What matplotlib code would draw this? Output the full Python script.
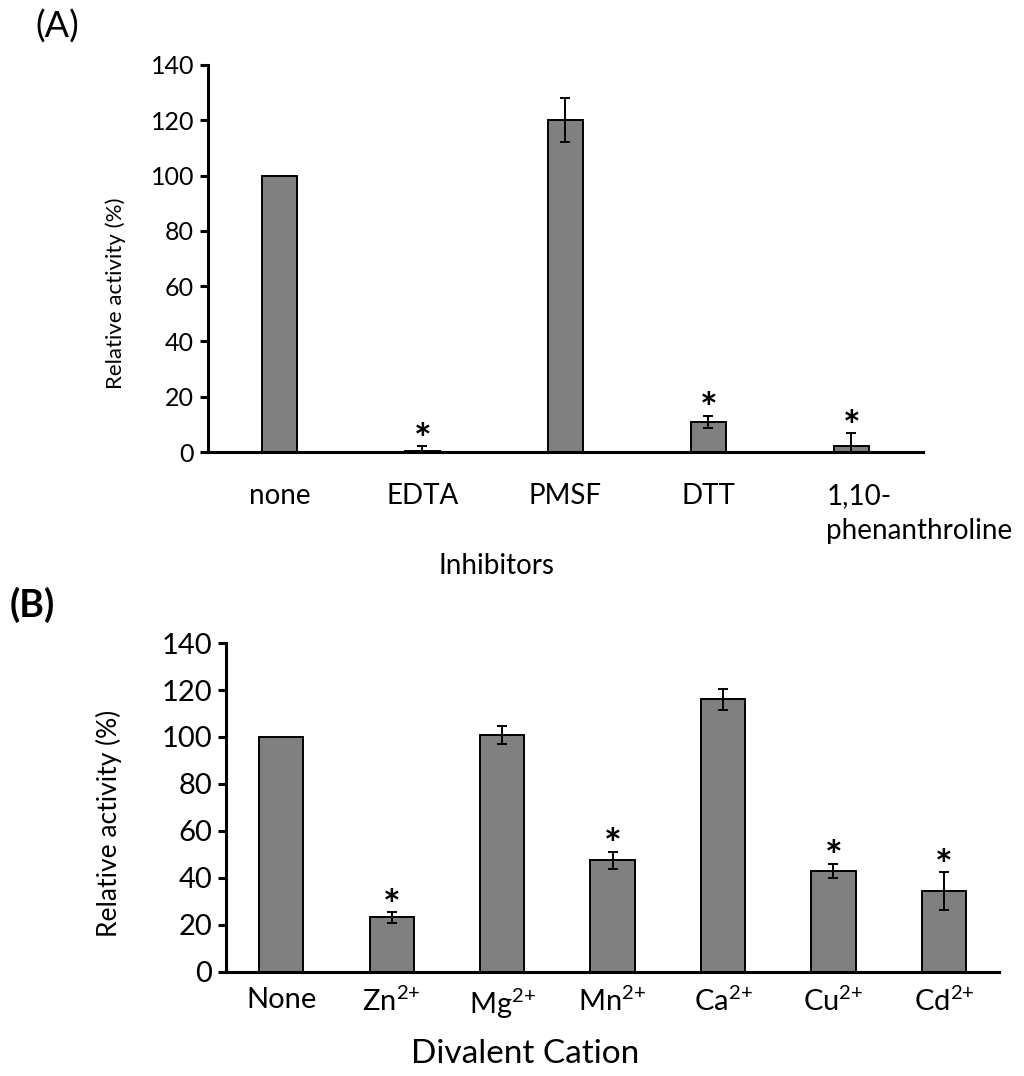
import matplotlib
matplotlib.use("Agg")
import matplotlib.pyplot as plt
import matplotlib.transforms as mtransforms

plt.rcParams["font.family"] = ["Lato", "DejaVu Sans"]
plt.rcParams["mathtext.default"] = "regular"

# panel A: inhibitors
inhibitors = ["none", "EDTA", "PMSF", "DTT", "1,10-\nphenanthroline"]
inh_values = [100, 0.3, 120, 11, 2]
inh_errors = [0, 2, 8, 2.2, 5]
inh_signif = [False, True, False, True, True]

# panel B: divalent cations
cations = ["None", "Zn$^{2{+}}$", "Mg$^{2{+}}$", "Mn$^{2{+}}$", "Ca$^{2{+}}$", "Cu$^{2{+}}$", "Cd$^{2{+}}$"]
cat_values = [100, 23.2, 101, 47.5, 116, 43.1, 34.5]
cat_errors = [0, 2.2, 3.8, 3.7, 4.6, 3.0, 8.0]
cat_signif = [False, True, False, True, False, True, True]

yticks = [0, 20, 40, 60, 80, 100, 120, 140]


def style_axes(ax, ytick_size, xtick_size):
    for s in ["top", "right"]:
        ax.spines[s].set_visible(False)
    for s in ["left", "bottom"]:
        ax.spines[s].set_linewidth(2.2)
    ax.set_ylim(0, 140)
    ax.set_yticks(yticks)
    ax.tick_params(axis="y", direction="out", length=6, width=2.2, labelsize=ytick_size, pad=4)
    ax.tick_params(axis="x", length=0, labelsize=xtick_size)


def draw_bars(ax, labels, values, errors, signif, width, star_off):
    x = list(range(len(labels)))
    ax.bar(x, values, width=width, color="#808080", edgecolor="black", linewidth=1.4, zorder=2)
    for xi, v, e in zip(x, values, errors):
        if e > 0:
            ax.errorbar(xi, v, yerr=e, fmt="none", ecolor="black", elinewidth=1.4,
                        capsize=3.5, capthick=1.4, zorder=3)
    for xi, v, e, s in zip(x, values, errors, signif):
        if s:
            ax.annotate("*", (xi, v + e), xytext=(0, star_off), textcoords="offset points",
                        ha="center", va="center", fontsize=30, fontweight="bold")
    ax.set_xlim(-0.5, len(labels) - 0.5)
    ax.set_xticks(x)
    ax.set_xticklabels(labels)


fig = plt.figure(figsize=(10.24, 10.76), dpi=100)

axA = fig.add_axes([0.2031, 0.5799, 0.6982, 0.3597])
style_axes(axA, 18, 20)
draw_bars(axA, inhibitors, inh_values, inh_errors, inh_signif, 0.25, 3)
axA.tick_params(axis="x", pad=22)
last = axA.get_xticklabels()[-1]
last.set_horizontalalignment("left")
last.set_linespacing(1.45)
last.set_transform(last.get_transform() + mtransforms.ScaledTranslation(-0.25, 0, fig.dpi_scale_trans))
axA.set_ylabel("Relative activity (%)", fontsize=16)
axA.yaxis.set_label_coords(-0.115, 0.41)
axA.set_xlabel("Inhibitors", fontsize=20)
axA.xaxis.set_label_coords(0.404, -0.262)

axB = fig.add_axes([0.2207, 0.0967, 0.755, 0.3057])
style_axes(axB, 21, 21)
draw_bars(axB, cations, cat_values, cat_errors, cat_signif, 0.4, 3)
axB.tick_params(axis="x", pad=11)
axB.set_ylabel("Relative activity (%)", fontsize=19)
axB.yaxis.set_label_coords(-0.135, 0.453)
axB.set_xlabel("Divalent Cation", fontsize=24)
axB.xaxis.set_label_coords(0.387, -0.205)

fig.text(35 / 1024, 1 - 27 / 1076, "(A)", fontsize=26, va="center", ha="left")
fig.text(10 / 1024, 1 - 605 / 1076, "(B)", fontsize=27, fontweight="bold", va="center", ha="left")

fig.savefig("out.png", dpi=100)
